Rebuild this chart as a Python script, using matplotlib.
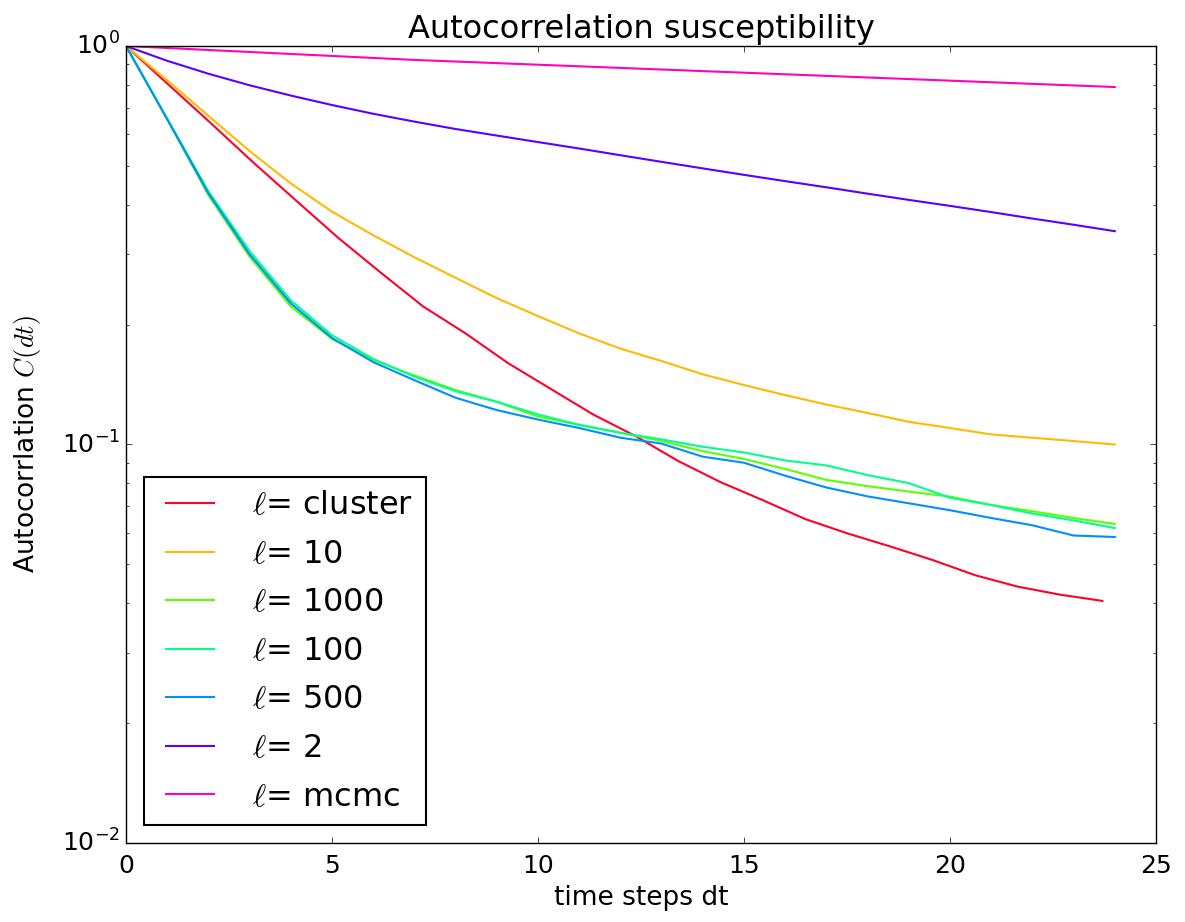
import numpy as np
import matplotlib
matplotlib.use("Agg")
import matplotlib.pyplot as plt

plt.style.use("classic")

labels = ["cluster", "10", "1000", "100", "500", "2", "mcmc"]

t = list(range(25))
cluster_step = 1.0304
t_cluster = [k * cluster_step for k in range(24)]

c_cluster = [1.0, 0.80, 0.64, 0.51, 0.41, 0.33, 0.27, 0.222, 0.19, 0.16, 0.138, 0.119,
             0.105, 0.091, 0.0805, 0.0725, 0.065, 0.0598, 0.0555, 0.0513, 0.047, 0.044,
             0.042, 0.0405]
c_10 = [1.0, 0.82, 0.668, 0.545, 0.452, 0.384, 0.335, 0.295, 0.262, 0.233, 0.21, 0.19,
        0.174, 0.162, 0.150, 0.141, 0.133, 0.126, 0.120, 0.114, 0.110, 0.106, 0.104,
        0.102, 0.100]
c_1000 = [1.0, 0.655, 0.422, 0.296, 0.222, 0.184, 0.163, 0.149, 0.137, 0.128, 0.1175,
          0.112, 0.107, 0.102, 0.0962, 0.092, 0.0868, 0.0815, 0.0786, 0.0762, 0.074,
          0.0705, 0.068, 0.0654, 0.0632]
c_100 = [1.0, 0.657, 0.432, 0.306, 0.230, 0.188, 0.164, 0.148, 0.136, 0.128, 0.119,
         0.112, 0.107, 0.103, 0.0987, 0.0955, 0.0912, 0.0886, 0.0838, 0.080, 0.0735,
         0.0705, 0.0671, 0.0645, 0.0617]
c_500 = [1.0, 0.655, 0.427, 0.300, 0.226, 0.185, 0.161, 0.145, 0.131, 0.122, 0.1155,
         0.110, 0.104, 0.1005, 0.0932, 0.090, 0.0835, 0.078, 0.0741, 0.0712, 0.0684,
         0.0654, 0.0627, 0.0591, 0.0586]
c_2 = [1.0, 0.918, 0.852, 0.797, 0.751, 0.711, 0.676, 0.646, 0.619, 0.596, 0.574,
       0.553, 0.532, 0.512, 0.493, 0.475, 0.458, 0.442, 0.426, 0.411, 0.397, 0.383,
       0.369, 0.356, 0.343]
c_mcmc = [1.0, 0.9886, 0.9773, 0.9661, 0.9551, 0.9442, 0.9334, 0.9227, 0.9142, 0.9058,
          0.8975, 0.8893, 0.8811, 0.8730, 0.8650, 0.8571, 0.8492, 0.8414, 0.8337,
          0.8261, 0.8185, 0.8110, 0.8035, 0.7962, 0.7889]

series_x = [t_cluster, t, t, t, t, t, t]
series_y = [c_cluster, c_10, c_1000, c_100, c_500, c_2, c_mcmc]

colors = plt.cm.gist_rainbow(np.linspace(0, 1, 7))

fig = plt.figure(figsize=(11.85, 9.22), dpi=100, facecolor="white")
ax = fig.add_axes([126 / 1185, 1 - 843 / 922, (1156 - 126) / 1185, (843 - 46) / 922])
ax.set_facecolor("white")

for xs, ys, lab, col in zip(series_x, series_y, labels, colors):
    ax.plot(xs, ys, color=col, lw=1.5, label=r"$\ell$= " + lab)

ax.set_yscale("log")
ax.set_xlim(0, 25)
ax.set_ylim(1e-2, 1)
ax.set_xticks([0, 5, 10, 15, 20, 25])
ax.tick_params(labelsize=18)
ax.tick_params(axis="x", pad=8)
ax.set_title("Autocorrelation susceptibility", fontsize=23, pad=6)
ax.set_xlabel("time steps dt", fontsize=19)
ax.set_ylabel(r"Autocorrlation $C(dt)$", fontsize=19, labelpad=14)
leg = ax.legend(loc="lower left", fontsize=23, handlelength=2.1, borderaxespad=0.55,
                labelspacing=0.55, handletextpad=0.9)
leg.get_frame().set_linewidth(1.5)

fig.savefig("out.png", dpi=100, facecolor="white")
